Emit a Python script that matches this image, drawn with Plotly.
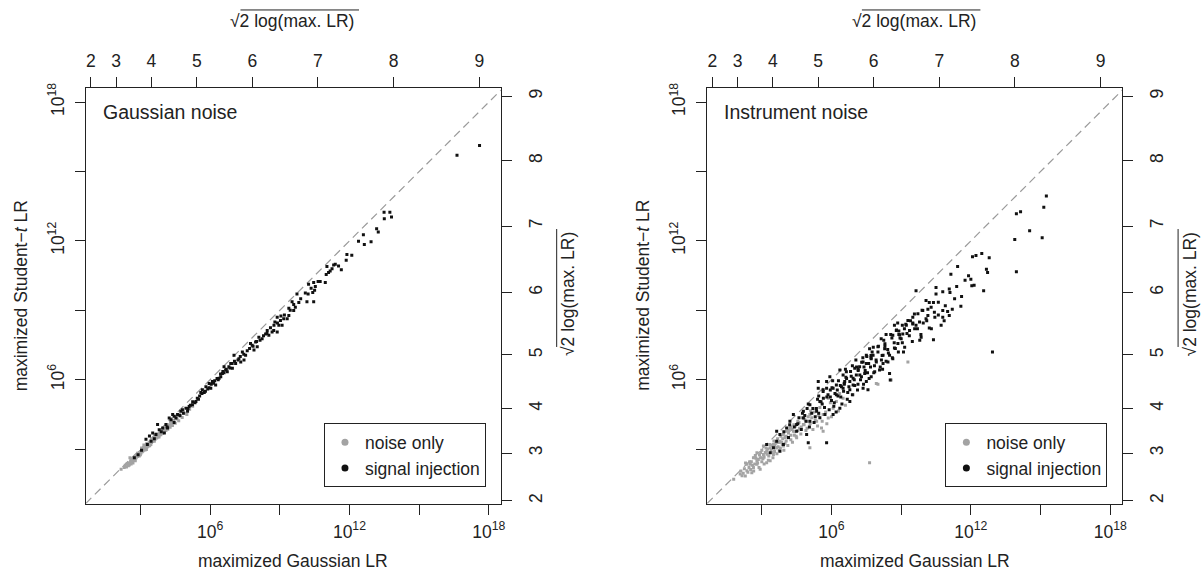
import math
import plotly.graph_objects as go

# ---------------- data (log10 of the likelihood ratios) ----------------
gauss_noise_x = [2.17, 2.35, 2.40, 2.45, 2.50, 2.52, 2.58, 2.60, 2.62, 2.66, 2.70, 2.72, 2.75, 2.78, 2.80, 2.82,
                 2.85, 2.88, 2.90, 2.92, 2.95, 2.97, 3.00, 3.02, 3.05, 3.08, 3.10, 3.12, 3.15, 3.18, 3.20, 3.22,
                 3.25, 3.28, 3.30, 3.33, 3.35, 3.38, 3.40, 3.43, 3.45, 3.48, 3.50, 3.53, 3.56, 3.58, 3.60, 3.63,
                 3.66, 3.70, 3.72, 3.75, 3.78, 3.80, 3.84, 3.88, 3.90, 3.94, 3.98, 4.02, 4.06, 4.10, 4.14, 4.18,
                 4.22, 4.28, 4.32, 4.38, 4.44, 4.50, 4.58, 4.65, 4.72, 4.80, 4.90, 5.00, 5.12, 5.25, 2.55, 2.68,
                 3.15, 3.26, 3.45, 3.62, 3.86, 2.95, 3.05,
                 2.30, 2.42, 2.48, 2.56, 2.64, 2.74, 2.84, 2.94, 3.04, 3.14, 3.24, 3.34, 3.44, 3.54, 3.64, 3.74,
                 3.82, 3.92, 4.00, 4.08, 4.20, 4.30, 4.42, 4.55, 4.68, 4.85, 2.88, 3.08, 3.28, 3.48, 3.68, 2.60,
                 2.78, 3.00, 3.20, 3.40, 3.60, 3.80, 4.00, 4.25]
gauss_noise_y = [2.13, 2.30, 2.22, 2.38, 2.40, 2.31, 2.50, 2.45, 2.55, 2.48, 2.60, 2.52, 2.66, 2.58, 2.70, 2.62,
                 2.75, 2.68, 2.80, 2.72, 2.85, 2.76, 2.90, 2.82, 2.95, 2.88, 3.00, 2.93, 3.06, 2.98, 3.10, 3.03,
                 3.16, 3.08, 3.20, 3.12, 3.25, 3.18, 3.30, 3.22, 3.36, 3.28, 3.40, 3.33, 3.45, 3.38, 3.50, 3.42,
                 3.55, 3.48, 3.60, 3.52, 3.64, 3.58, 3.70, 3.62, 3.76, 3.68, 3.82, 3.74, 3.88, 3.80, 3.95, 3.86,
                 4.02, 3.94, 4.10, 4.02, 4.20, 4.12, 4.30, 4.22, 4.42, 4.36, 4.55, 4.50, 4.72, 4.85, 2.62, 2.40,
                 3.18, 2.98, 3.20, 3.60, 3.80, 2.70, 3.05,
                 2.20, 2.35, 2.28, 2.40, 2.58, 2.55, 2.70, 2.80, 2.88, 3.00, 3.10, 3.22, 3.26, 3.40, 3.50, 3.58,
                 3.66, 3.78, 3.90, 3.92, 4.05, 4.18, 4.25, 4.38, 4.50, 4.62, 2.82, 3.02, 3.24, 3.44, 3.66, 2.36,
                 2.50, 2.76, 2.96, 3.14, 3.34, 3.52, 3.72, 3.98]

gauss_signal_x = [17.60, 16.63, 13.49, 13.74, 13.50, 13.81, 13.17, 13.24, 12.39, 12.64, 12.93, 12.60, 11.89, 12.10,
                  11.86, 11.39, 11.53, 11.65, 11.03, 11.10, 11.17, 11.32, 10.46, 10.53, 10.50, 10.24, 10.22, 10.46,
                  10.74, 10.96, 10.17, 10.42, 9.74, 9.82, 9.67, 9.53, 9.39, 9.60, 8.89, 9.03, 8.79, 9.17, 8.96, 8.74,
                  8.89, 9.10, 9.39, 9.32, 8.10, 8.24, 8.39, 8.53, 7.96, 7.81, 8.03, 7.89, 7.74, 8.67, 8.46, 7.39,
                  7.53, 7.24, 7.32, 7.10, 6.96, 6.81, 7.03, 7.46, 6.67, 6.53, 6.46, 6.39, 6.60, 6.74, 6.89, 6.10,
                  6.24, 5.96, 5.82, 6.03, 5.67, 5.55, 5.75, 5.90, 6.15, 6.30, 6.55, 5.45, 5.60,
                  2.74, 3.24, 3.39, 3.53, 3.67, 3.81, 3.96, 4.10, 4.32, 4.46, 4.53, 4.74, 4.81, 4.96, 5.10, 5.24,
                  5.39, 5.03, 4.60, 4.17, 4.03, 3.46, 3.74, 4.39, 4.24,
                  5.15, 5.35, 5.50, 5.65, 5.80, 5.95, 6.05, 6.20, 6.35, 6.45, 6.60, 6.70, 6.85, 6.95, 7.05, 7.20,
                  7.30, 7.45, 7.60, 7.70, 7.85, 8.00, 8.15, 8.30, 8.45, 8.60, 8.75, 8.90, 9.05, 9.20, 9.45, 9.60,
                  9.90, 10.10, 10.35, 10.65, 11.00, 11.25, 4.70, 4.85, 5.05, 5.25, 4.45, 4.15, 3.90, 3.60, 3.30,
                  3.05, 2.90]
gauss_signal_y = [16.13, 15.70, 13.24, 13.24, 12.96, 13.03, 12.53, 12.39, 11.99, 11.84, 11.96, 12.27, 11.41, 11.38,
                  11.16, 10.99, 10.92, 10.75, 10.89, 10.63, 10.70, 10.96, 10.20, 10.03, 9.87, 10.13, 9.70, 9.37,
                  10.24, 10.20, 9.37, 9.77, 9.70, 9.34, 9.13, 9.37, 9.09, 8.99, 8.70, 8.56, 8.49, 8.63, 8.35, 8.13,
                  8.06, 8.35, 8.77, 8.63, 7.84, 7.77, 7.98, 7.92, 7.63, 7.49, 7.42, 7.28, 7.56, 8.06, 8.13, 7.20,
                  7.06, 6.91, 6.77, 6.70, 6.49, 6.56, 7.06, 6.85, 6.42, 6.27, 6.13, 6.06, 6.56, 6.34, 6.70, 5.92,
                  5.77, 5.84, 5.70, 5.63, 5.56, 5.30, 5.45, 5.60, 5.85, 6.05, 6.35, 5.20, 5.45,
                  2.63, 3.42, 3.56, 3.70, 3.63, 3.84, 3.91, 4.06, 4.27, 4.42, 4.34, 4.63, 4.70, 4.77, 4.84, 4.92,
                  5.06, 4.63, 4.49, 3.91, 3.70, 3.34, 4.06, 4.49, 4.34,
                  4.90, 5.00, 5.15, 5.40, 5.50, 5.65, 5.80, 5.95, 6.00, 6.25, 6.30, 6.45, 6.50, 6.70, 6.80, 6.85,
                  7.00, 7.10, 7.25, 7.35, 7.45, 7.65, 7.70, 7.90, 8.00, 8.25, 8.35, 8.45, 8.75, 8.80, 9.00, 9.25,
                  9.50, 9.75, 9.95, 10.25, 10.55, 10.80, 4.45, 4.55, 4.75, 5.05, 4.15, 3.95, 3.75, 3.45, 3.20,
                  2.95, 2.75]

inst_noise_x = [2.07, 2.36, 2.50, 2.64, 2.79, 2.93, 3.07, 3.21, 3.36, 3.50, 3.64, 2.93, 2.36, 2.64, 2.79, 3.07,
                3.36, 3.21, 3.50, 3.78, 3.93, 4.07, 4.21, 4.36, 4.50, 3.93, 4.14, 4.79, 4.93, 5.07, 5.36, 5.57,
                5.64, 5.64, 5.86, 6.07, 6.21, 5.07, 2.79, 2.57, 2.29, 1.79, 7.64, 7.93, 5.86, 6.93, 9.29, 8.00,
                8.57, 2.10, 2.20, 2.45, 2.55, 2.70, 2.75, 2.85, 2.90, 3.00, 3.00, 3.10, 3.15, 3.25, 3.30, 3.40,
                3.45, 3.55, 3.60, 3.70, 3.75, 3.85, 3.90, 4.00, 4.05, 4.15, 4.25, 4.30, 4.40, 4.45, 4.55, 4.60,
                4.70, 4.85, 4.95, 5.15, 5.25, 5.45, 5.50, 5.75, 5.95, 6.35, 6.60,
                2.15, 2.25, 2.40, 2.48, 2.60, 2.65, 2.72, 2.82, 2.88, 2.95, 3.05, 3.10, 3.18, 3.22, 3.28, 3.35,
                3.42, 3.48, 3.52, 3.58, 3.65, 3.68, 3.72, 3.80, 3.82, 3.88, 3.95, 4.00, 4.05, 4.12, 4.18, 4.25,
                4.32, 4.38, 4.42, 4.48, 4.55, 4.62, 4.68, 4.75, 4.82, 4.90, 5.00, 5.08, 5.20, 5.30, 5.40, 5.60,
                5.80, 6.00, 6.30, 6.50, 5.10, 4.25, 3.55, 2.98, 2.52, 2.30]
inst_noise_y = [1.92, 2.06, 2.34, 2.20, 2.49, 2.63, 2.77, 2.91, 3.06, 2.77, 3.06, 2.13, 2.34, 2.63, 2.84, 3.13,
                2.49, 2.41, 3.20, 3.34, 3.63, 3.77, 3.91, 3.77, 3.49, 3.13, 3.49, 4.06, 4.20, 4.49, 4.20, 3.91,
                3.77, 4.49, 4.34, 4.77, 5.06, 3.06, 2.34, 1.98, 1.84, 1.70, 2.41, 5.84, 5.20, 5.35, 6.77, 5.80,
                5.99, 2.05, 1.95, 2.20, 2.45, 2.35, 2.60, 2.55, 2.75, 2.45, 2.95, 2.65, 2.85, 3.00, 2.70, 2.95,
                3.15, 2.90, 3.25, 3.10, 2.95, 3.30, 3.45, 3.25, 3.55, 3.70, 3.40, 3.85, 3.60, 4.00, 3.80, 4.15,
                3.95, 4.30, 3.90, 4.35, 4.60, 4.45, 4.80, 4.60, 5.00, 5.40, 4.90,
                1.85, 2.15, 2.00, 2.45, 2.30, 2.05, 2.72, 2.40, 2.20, 2.85, 2.58, 2.35, 3.05, 2.78, 2.52, 3.20,
                2.85, 2.62, 3.35, 3.05, 2.80, 3.45, 3.28, 3.05, 3.55, 3.20, 2.95, 3.50, 3.35, 3.15, 3.80, 3.60,
                3.30, 4.05, 3.75, 3.55, 4.20, 3.90, 3.65, 4.35, 4.05, 3.80, 4.40, 4.10, 3.85, 4.25, 4.00, 4.20,
                4.10, 4.40, 4.65, 5.20, 4.65, 3.95, 3.15, 2.62, 2.12, 2.40]

inst_signal_x = [15.25, 15.14, 15.07, 14.53, 13.96, 14.14, 13.89, 13.96, 12.93, 12.07, 12.22, 12.47, 12.79, 12.67,
                 12.72, 11.90, 12.00, 12.14, 12.04, 12.55, 11.43, 11.14, 11.39, 11.07, 11.10, 10.79, 10.50, 10.50,
                 11.57,
                 10.07, 10.21, 10.29, 10.39, 9.93, 10.15, 10.43, 10.79, 11.00, 11.07, 10.79, 10.72, 10.21, 10.39,
                 9.86, 10.07, 9.79, 9.64, 9.57, 9.64,
                 9.29, 9.50, 9.22, 9.36, 9.14, 9.07, 8.93, 8.79, 8.71, 8.64, 9.00, 8.86, 8.71, 8.50, 8.64, 8.29,
                 8.22, 8.43, 8.22, 8.07, 8.50, 8.53, 7.86, 7.79, 8.00, 8.14,
                 7.64, 7.50, 7.71, 7.36, 7.50, 7.21, 7.00, 7.07, 7.29, 7.43, 6.93, 6.79, 6.64, 6.50, 6.36, 6.57,
                 6.21, 6.43, 6.07, 5.93, 5.79, 5.64, 5.43, 6.79, 7.14, 7.57, 7.71, 7.93,
                 5.43, 5.64, 6.21, 6.79, 6.36, 6.07, 5.36, 5.07, 4.79, 4.36, 4.50, 4.07, 3.78, 3.64, 3.93, 4.50,
                 4.93, 5.07, 5.50, 5.79, 6.50, 6.93, 7.36, 7.50, 5.00, 5.79, 4.79, 4.21, 3.78, 3.21, 3.36, 3.50,
                 3.64,
                 4.60, 4.90, 5.20, 5.30, 5.55, 5.70, 5.85, 6.00, 6.10, 6.25, 6.40, 6.55, 6.70, 6.85, 7.00, 7.15,
                 7.25, 7.40, 7.55, 7.70, 7.85, 8.00, 8.15, 8.30, 8.45, 8.60, 8.75, 8.90, 9.05, 9.20, 9.35, 9.50,
                 9.70, 9.90, 10.10, 4.40, 4.20, 4.75, 5.00, 5.45, 5.95, 6.30, 6.65, 7.05, 7.35, 7.80, 8.35, 8.85,
                 3.95, 4.15, 5.65, 6.15, 6.90, 7.60, 8.20, 9.10, 9.80, 10.60, 11.30, 10.90,
                 4.55, 4.70, 4.85, 5.05, 5.15, 5.25, 5.40, 5.50, 5.60, 5.72, 5.80, 5.90, 6.02, 6.12, 6.20, 6.28,
                 6.38, 6.45, 6.52, 6.62, 6.68, 6.75, 6.82, 6.90, 6.98, 7.08, 7.12, 7.22, 7.30, 7.38, 7.45, 7.52,
                 7.62, 7.68, 7.75, 7.82, 7.92, 8.02, 8.10, 8.18, 8.25, 8.35, 8.42, 8.55, 8.62, 8.70, 8.80, 8.88,
                 8.95, 9.05, 9.15, 9.25, 9.40, 9.48, 9.58, 9.72, 9.85, 9.95, 10.15, 10.30, 10.45, 10.60, 10.85,
                 11.20, 11.60, 11.75, 5.35, 5.95, 6.55, 7.15, 7.70, 8.30, 8.90, 9.50, 4.95, 5.45, 6.05, 6.60]
inst_signal_y = [13.94, 13.46, 12.14, 12.44, 13.17, 13.26, 12.06, 10.67, 7.20, 11.32, 11.37, 11.46, 11.27, 10.77,
                 10.63, 10.49, 10.34, 10.08, 10.06, 9.85, 10.89, 10.56, 10.03, 9.92, 9.77, 9.80, 9.99, 9.70,
                 9.17,
                 9.42, 9.34, 9.13, 9.34, 8.99, 8.77, 8.92, 8.99, 8.95, 8.77, 8.70, 8.35, 8.23, 7.73,
                 7.84, 8.63, 8.49, 8.35, 8.84, 9.85,
                 8.56, 8.41, 8.35, 8.13, 8.20, 7.98, 7.94, 8.13, 8.35, 7.92, 7.77, 7.56, 7.37, 7.06, 6.91, 7.34,
                 7.06, 6.77, 6.70, 6.42, 6.27, 5.99, 6.34, 7.06, 7.42, 7.77,
                 7.34, 7.06, 6.91, 6.77, 6.70, 6.56, 6.49, 6.20, 6.13, 6.27, 6.06, 5.92, 6.34, 6.20, 6.42, 5.92,
                 5.77, 5.70, 5.63, 6.13, 5.92, 5.56, 5.63, 5.56, 5.80, 5.56, 6.13, 6.77,
                 5.92, 5.49, 5.35, 5.06, 4.77, 4.49, 4.63, 4.92, 4.63, 4.49, 4.06, 3.91, 3.63, 3.34, 3.20, 3.77,
                 3.63, 4.20, 5.06, 5.63, 5.63, 5.77, 5.63, 5.92, 3.27, 3.27, 4.34, 4.20, 2.91, 3.20, 2.84, 3.06,
                 3.77,
                 4.35, 4.20, 4.75, 4.40, 5.05, 4.80, 5.35, 5.10, 4.85, 5.55, 5.25, 5.80, 5.45, 6.15, 5.75, 6.40,
                 6.00, 6.55, 6.30, 7.05, 6.60, 7.20, 6.85, 7.55, 7.15, 7.80, 7.35, 8.10, 7.60, 8.40, 7.90, 8.70,
                 8.20, 9.00, 8.55, 3.95, 4.05, 4.55, 4.95, 4.55, 5.55, 5.95, 6.05, 6.85, 6.95, 7.40, 7.95, 8.45,
                 3.75, 3.50, 5.20, 5.40, 6.60, 6.70, 6.45, 7.20, 7.70, 8.80, 9.50, 9.20,
                 4.10, 3.85, 4.45, 3.95, 4.55, 4.15, 5.15, 4.35, 4.95, 4.50, 5.25, 4.70, 5.65, 5.00, 4.60, 5.30,
                 5.75, 4.95, 5.50, 6.10, 5.15, 5.70, 6.35, 5.35, 6.00, 6.55, 5.55, 6.20, 6.75, 5.80, 6.40, 7.00,
                 6.05, 6.55, 7.20, 6.30, 6.85, 7.45, 6.55, 7.05, 7.70, 6.80, 7.30, 7.95, 6.95, 7.60, 8.15, 7.20,
                 7.80, 8.35, 7.40, 8.00, 8.55, 7.65, 8.20, 8.85, 7.95, 8.45, 9.05, 8.20, 8.70, 9.35, 8.55,
                 9.05, 9.60, 10.30, 4.75, 5.25, 5.85, 6.45, 6.95, 7.45, 7.95, 8.45, 4.75, 5.30, 5.95, 6.45]

# axis ticks
main_tick_exp = [3, 6, 9, 12, 15, 18]
main_tick_text = ["", "10<sup>6</sup>", "", "10<sup>12</sup>", "", "10<sup>18</sup>"]
sqrt_ticks = [2, 3, 4, 5, 6, 7, 8, 9]                          # sqrt(2 log(max. LR))
right_tick_log10 = [0.77, 2.83, 4.76, 7.07, 9.77, 12.64, 15.47, 18.26]  # where the right-axis ticks sit

XR = [0.643, 18.52]
YR = [0.643, 18.60]

# ---------------- styling ----------------
W, H = 1203, 571
FONT = "Liberation Sans, Arial, Helvetica, sans-serif"
AX = "#222222"
GRAY = "#a3a3a3"
BLACK = "#111111"
FS = 17.5

def px_x(p):
    return p / W

def px_y(p):
    return (H - p) / H

panels = [
    dict(name="Gaussian noise", nx=gauss_noise_x, ny=gauss_noise_y, sx=gauss_signal_x, sy=gauss_signal_y,
         left=86, right=503, legend="legend"),
    dict(name="Instrument noise", nx=inst_noise_x, ny=inst_noise_y, sx=inst_signal_x, sy=inst_signal_y,
         left=710, right=1127, legend="legend2"),
]
TOP, BOTTOM = 84, 503

fig = go.Figure()
layout = dict(width=W, height=H, margin=dict(l=0, r=0, t=0, b=0), plot_bgcolor="white",
              paper_bgcolor="white", font=dict(family=FONT, size=FS, color=AX), showlegend=True)
annotations = []
shapes = []

top_tickvals = [10 ** (v * v / 2 / math.log(10)) for v in sqrt_ticks]
right_tickvals = [10 ** p for p in right_tick_log10]

for i, P in enumerate(panels):
    xb = "x" if i == 0 else "x2"
    yb = "y" if i == 0 else "y2"
    xt = "x3" if i == 0 else "x4"
    yr = "y3" if i == 0 else "y4"
    dom_x = [px_x(P["left"]), px_x(P["right"])]
    dom_y = [px_y(BOTTOM), px_y(TOP)]

    common = dict(showgrid=False, zeroline=False, showline=True, linecolor=AX, linewidth=1,
                  ticks="outside", ticklen=10, tickwidth=1, tickcolor=AX,
                  tickfont=dict(family=FONT, size=FS, color=AX))
    layout["xaxis" + ("" if i == 0 else "2")] = dict(common, type="log", domain=dom_x, range=XR, anchor=yb,
                                                     tickvals=[10 ** e for e in main_tick_exp],
                                                     ticktext=main_tick_text, ticklabelstandoff=2)
    layout["yaxis" + ("" if i == 0 else "2")] = dict(common, type="log", domain=dom_y, range=YR, anchor=xb,
                                                     tickvals=[10 ** e for e in main_tick_exp],
                                                     ticktext=main_tick_text, tickangle=-90,
                                                     ticklabelstandoff=4)
    layout["xaxis" + ("3" if i == 0 else "4")] = dict(common, type="log", range=XR, overlaying=xb, side="top",
                                                      anchor=yb, tickvals=top_tickvals,
                                                      ticktext=[str(v) for v in sqrt_ticks], ticklabelstandoff=3)
    layout["yaxis" + ("3" if i == 0 else "4")] = dict(common, type="log", range=YR, overlaying=yb,
                                                      side="right", anchor=xb, tickvals=right_tickvals,
                                                      ticktext=[str(v) for v in sqrt_ticks], tickangle=-90,
                                                      ticklabelstandoff=9)

    # register overlay subplots
    fig.add_trace(go.Scatter(x=[], y=[], xaxis=xt, yaxis=yb, showlegend=False, hoverinfo="skip"))
    fig.add_trace(go.Scatter(x=[], y=[], xaxis=xb, yaxis=yr, showlegend=False, hoverinfo="skip"))

    # dashed diagonal
    lo = XR[0]
    hi = min(XR[1], YR[1])
    fig.add_trace(go.Scatter(x=[10 ** lo, 10 ** hi], y=[10 ** lo, 10 ** hi], mode="lines",
                             line=dict(color="#9a9a9a", width=1.2, dash="8px,5px"),
                             xaxis=xb, yaxis=yb, showlegend=False, hoverinfo="skip"))
    # points
    fig.add_trace(go.Scatter(x=[10 ** v for v in P["nx"]], y=[10 ** v for v in P["ny"]], mode="markers",
                             marker=dict(color=GRAY, size=3, symbol="square", line=dict(width=0)),
                             xaxis=xb, yaxis=yb, showlegend=False, name="noise only"))
    fig.add_trace(go.Scatter(x=[10 ** v for v in P["sx"]], y=[10 ** v for v in P["sy"]], mode="markers",
                             marker=dict(color=BLACK, size=3, symbol="square", line=dict(width=0)),
                             xaxis=xb, yaxis=yb, showlegend=False, name="signal injection"))
    # legend entries
    fig.add_trace(go.Scatter(x=[None], y=[None], mode="markers", name="noise only",
                             marker=dict(color=GRAY, size=7), xaxis=xb, yaxis=yb, legend=P["legend"]))
    fig.add_trace(go.Scatter(x=[None], y=[None], mode="markers", name="signal injection",
                             marker=dict(color=BLACK, size=7), xaxis=xb, yaxis=yb, legend=P["legend"]))

    layout[P["legend"]] = dict(x=px_x(P["right"] - 15), xanchor="right", y=px_y(422), yanchor="top",
                               bgcolor="white", bordercolor=AX, borderwidth=1,
                               font=dict(family=FONT, size=FS, color=AX), tracegroupgap=0,
                               itemwidth=30)

    cx = (P["left"] + P["right"]) / 2
    # panel label
    annotations.append(dict(text=P["name"], x=px_x(P["left"] + 15), y=px_y(108), xref="paper", yref="paper",
                            xanchor="left", yanchor="middle", showarrow=False,
                            font=dict(family=FONT, size=19.5, color=AX)))
    # bottom title
    annotations.append(dict(text="maximized Gaussian LR", x=px_x(cx), y=px_y(561), xref="paper",
                            yref="paper", xanchor="center", yanchor="middle", showarrow=False,
                            font=dict(family=FONT, size=FS, color=AX)))
    # left title
    annotations.append(dict(text="maximized Student\u2212<i>t</i> LR", x=px_x(P["left"] - 64),
                            y=px_y(293), xref="paper", yref="paper", xanchor="center", yanchor="middle",
                            textangle=-90, showarrow=False, font=dict(family=FONT, size=FS, color=AX)))
    # top title
    annotations.append(dict(text="\u221a2 log(max. LR)", x=px_x(cx - 1), y=px_y(16), xref="paper",
                            yref="paper", xanchor="center", yanchor="middle", showarrow=False,
                            font=dict(family=FONT, size=FS, color=AX)))
    shapes.append(dict(type="line", xref="paper", yref="paper", x0=px_x(cx - 53), x1=px_x(cx + 66),
                       y0=px_y(5), y1=px_y(5), line=dict(color=AX, width=1)))
    # right title
    rx = P["right"] + 68
    annotations.append(dict(text="\u221a2 log(max. LR)", x=px_x(rx), y=px_y(292), xref="paper",
                            yref="paper", xanchor="center", yanchor="middle", textangle=-90, showarrow=False,
                            font=dict(family=FONT, size=FS, color=AX)))
    shapes.append(dict(type="line", xref="paper", yref="paper", x0=px_x(rx - 12), x1=px_x(rx - 12),
                       y0=px_y(292 + 53), y1=px_y(292 - 66), line=dict(color=AX, width=1)))

layout["annotations"] = annotations
layout["shapes"] = shapes
fig.update_layout(**layout)
fig.write_html("out.html", config={"displayModeBar": False},
               post_script="document.body.style.margin='0';document.body.style.overflow='hidden';")
